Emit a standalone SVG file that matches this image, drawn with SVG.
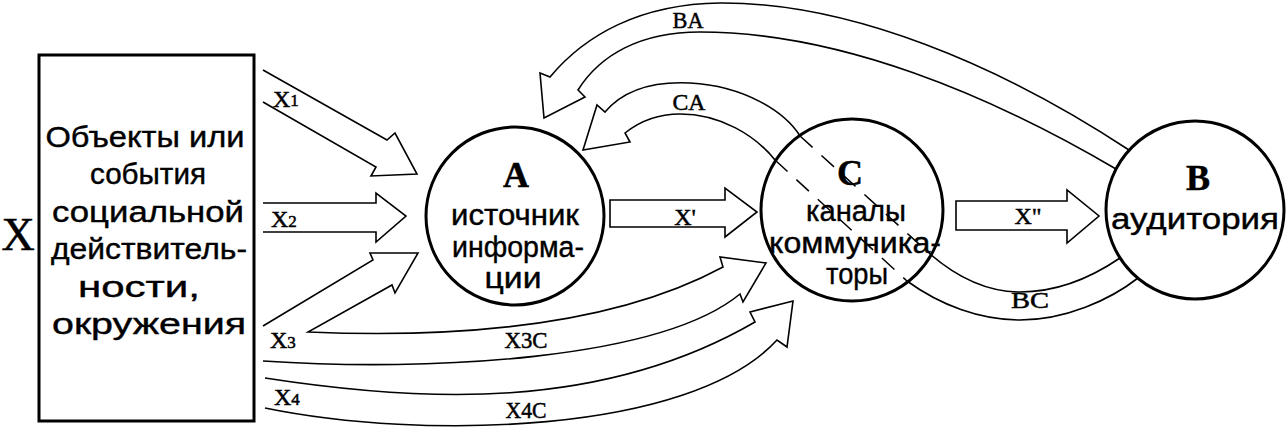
<svg xmlns="http://www.w3.org/2000/svg" width="1286" height="428" viewBox="0 0 1286 428">
<style>
.bg{fill:#fff}
.node{fill:none;stroke:#000;stroke-width:3}
.arr{fill:none;stroke:#000;stroke-width:1.6;stroke-linejoin:miter}
.dash{fill:none;stroke:#000;stroke-width:1.5;stroke-dasharray:17 12}
.sans{font-family:"Liberation Sans","Noto Sans",Arial,sans-serif;fill:#000;stroke:#000;stroke-width:0.4}
.box{font-size:29px}
.circ{font-size:30px}
.serif{font-family:"Liberation Serif","DejaVu Serif",serif;fill:#000;stroke:#000;stroke-width:0.5}
.lab{font-size:24px}
.sub{font-size:17px}
.big{font-size:36px;font-weight:bold}
</style>
<rect class="bg" x="0" y="0" width="1286" height="428"/>

<g id="connectors">
  <path id="x1" class="arr" d="M263,70 L387,140 L395,133 L417,174 L371,176 L376,167 L263,102"/>
  <path id="x2" class="arr" d="M263,203 L376,203 L376,193 L406,216 L376,242 L376,232 L263,232"/>
  <path id="x3" class="arr" d="M263,326 L373,260 L370,253 L418,253 L395,293 L392,285 L308,332 C450,338 610,328 723,267 L720,257 L766,263 L743,302 L740,294 C660,360 430,372 263,361"/>
  <path id="x4" class="arr" d="M265,378 C420,402 600,412 755,322 L750,312 L793,301 L787,347 L777,340 C690,435 420,440 265,408"/>
  <path id="xp" class="arr" d="M610,200 L725,200 L725,188 L757,212 L725,237 L725,227 L610,227 Z"/>
  <path id="xpp" class="arr" d="M956,201 L1067,201 L1067,190 L1099,216 L1067,243 L1067,230 L956,230 Z"/>
  <path id="ba" class="arr" d="M1129,150 C1000,65 850,2 720,3 C640,4 585,35 550,77 L540,73 L544,118 L585,97 L578,90 C600,55 640,32 700,32 C840,32 990,95 1116,169"/>
  <path id="ca" class="arr" d="M800,136 C785,112 745,86 690,83 C650,81 622,92 605,112 L597,105 L583,150 L630,142 L625,133 C640,121 660,114 680,114 C720,114 755,135 775,160"/>
  <path id="bc" class="arr" d="M930,254 C960,280 990,292 1020,292 C1060,292 1095,275 1120,258 M907,281 C940,305 980,320 1020,320 C1065,320 1110,300 1138,278"/>
  <path class="dash" d="M800,136 L930,254"/>
  <path class="dash" d="M775,160 L907,281"/>
  <text class="serif lab" x="273" y="107">X<tspan class="sub" dy="-1">1</tspan></text>
  <text class="serif lab" x="271" y="227">X<tspan class="sub">2</tspan></text>
  <text class="serif lab" x="270" y="348">X<tspan class="sub">3</tspan></text>
  <text class="serif lab" x="274" y="405">X<tspan class="sub">4</tspan></text>
  <text class="serif lab" x="526" y="348" text-anchor="middle" textLength="43" lengthAdjust="spacingAndGlyphs">X3C</text>
  <text class="serif lab" x="526" y="418" text-anchor="middle" textLength="41" lengthAdjust="spacingAndGlyphs">X4C</text>
  <text class="serif lab" x="685" y="225" text-anchor="middle">X'</text>
  <text class="serif lab" x="1028" y="224" text-anchor="middle">X"</text>
  <text class="serif lab" x="688" y="28" text-anchor="middle" textLength="31" lengthAdjust="spacingAndGlyphs">BA</text>
  <text class="serif lab" x="689" y="110" text-anchor="middle" textLength="33" lengthAdjust="spacingAndGlyphs">CA</text>
  <text class="serif lab" x="1030" y="308" text-anchor="middle" textLength="38" lengthAdjust="spacingAndGlyphs">BC</text>
</g>

<g id="nodeX">
  <text class="serif" x="18" y="250" font-size="46" text-anchor="middle">X</text>
  <rect class="node" x="39" y="55" width="215" height="366"/>
  <g class="sans box" text-anchor="middle">
    <text x="145" y="147" textLength="199" lengthAdjust="spacingAndGlyphs">Объекты или</text>
    <text x="148" y="184" textLength="116" lengthAdjust="spacingAndGlyphs">события</text>
    <text x="148" y="222" textLength="192" lengthAdjust="spacingAndGlyphs">социальной</text>
    <text x="149" y="259" textLength="196" lengthAdjust="spacingAndGlyphs">действитель-</text>
    <text x="139" y="297" textLength="122" lengthAdjust="spacingAndGlyphs">ности,</text>
    <text x="149" y="334" textLength="194" lengthAdjust="spacingAndGlyphs">окружения</text>
  </g>
</g>

<g id="nodeA">
  <circle class="node" cx="515" cy="216" r="89"/>
  <text class="serif big" x="516" y="187" text-anchor="middle">A</text>
  <g class="sans circ" text-anchor="middle">
    <text x="515" y="225" textLength="128" lengthAdjust="spacingAndGlyphs">источник</text>
    <text x="518" y="257" textLength="132" lengthAdjust="spacingAndGlyphs">информа-</text>
    <text x="513" y="288" textLength="57" lengthAdjust="spacingAndGlyphs">ции</text>
  </g>
</g>

<g id="nodeC">
  <circle class="node" cx="852" cy="210" r="91"/>
  <text class="serif big" x="850" y="185" text-anchor="middle">C</text>
  <g class="sans circ" text-anchor="middle">
    <text x="856" y="221" textLength="100" lengthAdjust="spacingAndGlyphs">каналы</text>
    <text x="855" y="253" textLength="172" lengthAdjust="spacingAndGlyphs">коммуника-</text>
    <text x="857" y="284" textLength="62" lengthAdjust="spacingAndGlyphs">торы</text>
  </g>
</g>

<g id="nodeB">
  <circle class="node" cx="1195" cy="210" r="89"/>
  <text class="serif big" x="1198" y="190" text-anchor="middle">B</text>
  <text class="sans circ" x="1195" y="229" text-anchor="middle" textLength="168" lengthAdjust="spacingAndGlyphs">аудитория</text>
</g>
</svg>
